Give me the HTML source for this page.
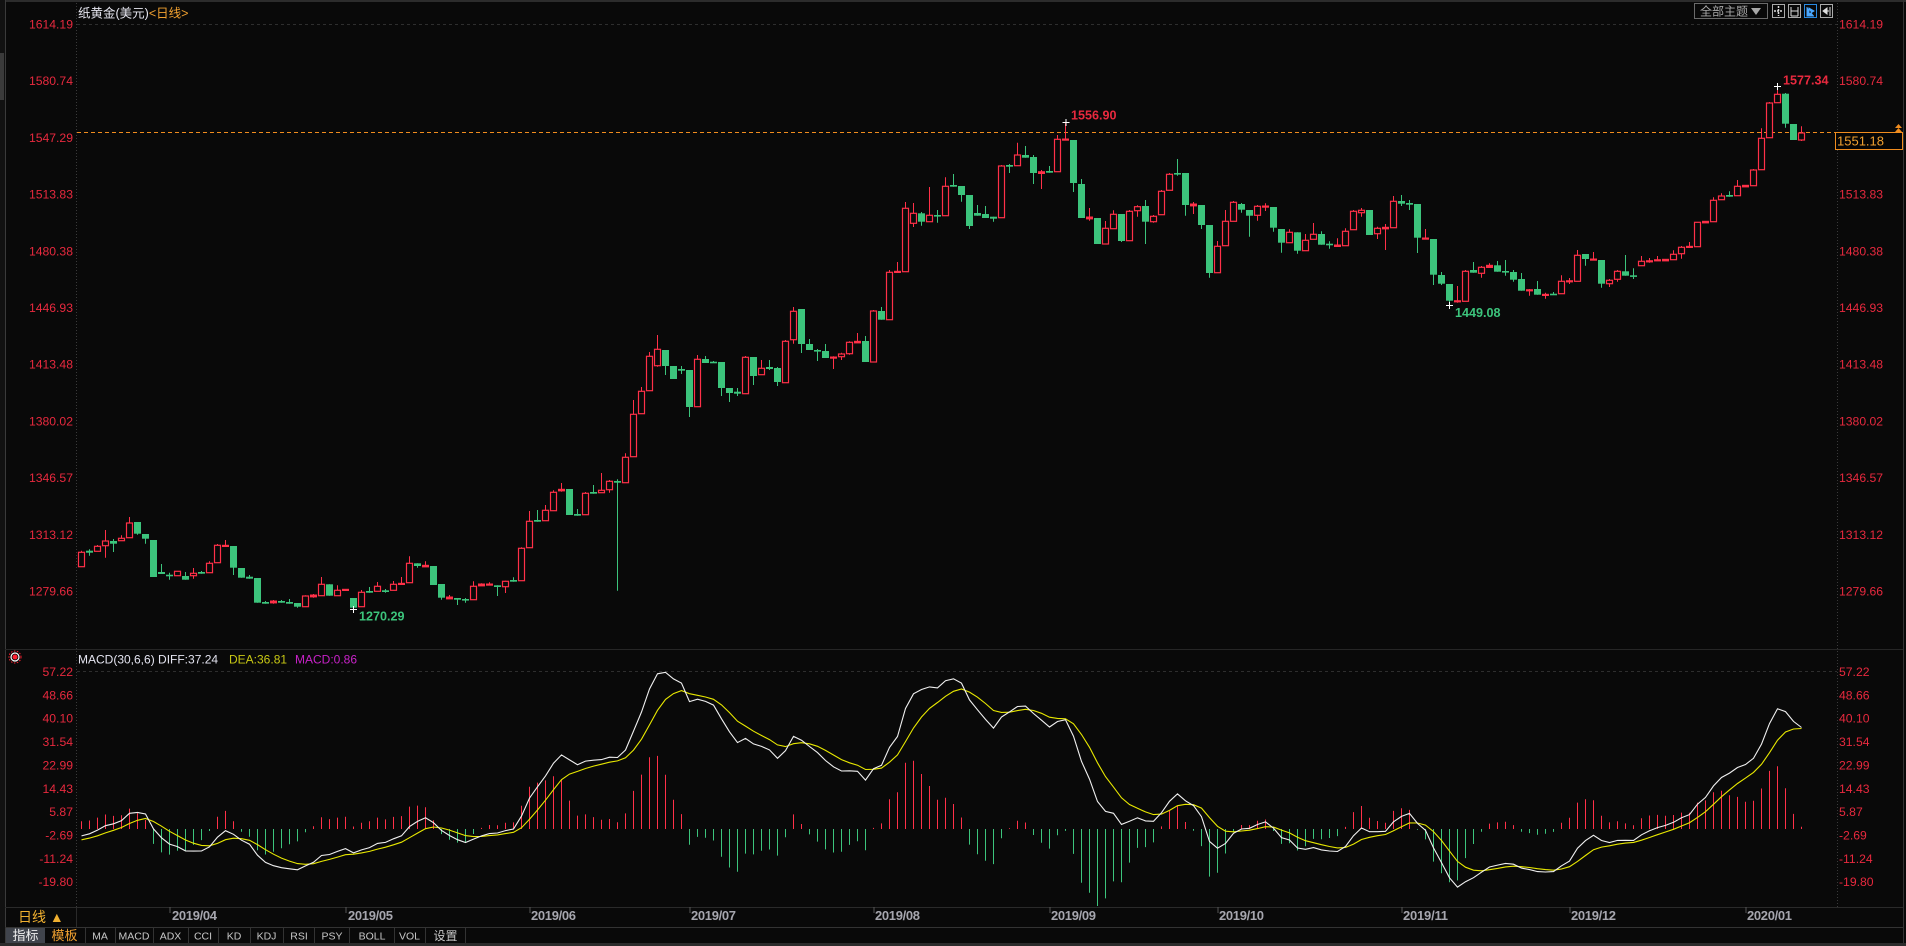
<!DOCTYPE html>
<html><head><meta charset="utf-8">
<style>
html,body{margin:0;padding:0;background:#090909;width:1906px;height:946px;overflow:hidden;}
svg{display:block;}
text{font-family:"Liberation Sans","Noto Sans CJK SC",sans-serif;}
.pl{font-size:12.2px;fill:#e8293e;}
.dt{font-size:13px;font-weight:bold;fill:#a6a6ae;}
.tb{font-family:"Liberation Mono",monospace;font-size:10.5px;fill:#c8c8c8;}
</style></head>
<body>
<svg id="c" width="1906" height="946" xmlns="http://www.w3.org/2000/svg">
<defs>
<clipPath id="mclip"><rect x="77" y="651" width="1759" height="255"/></clipPath>
<clipPath id="pclip"><rect x="77" y="3" width="1759" height="645"/></clipPath>
</defs>
<rect width="1906" height="946" fill="#090909"/>
<!-- frame -->
<rect x="0" y="0" width="1906" height="2" fill="#2c2c2c"/>
<rect x="0" y="0" width="5" height="946" fill="#111"/>
<line x1="5.5" y1="0" x2="5.5" y2="946" stroke="#3a3a3a"/>
<rect x="0" y="53" width="4" height="47" fill="#3a3a3a"/>
<line x1="1903.5" y1="0" x2="1903.5" y2="946" stroke="#333"/>
<line x1="76.5" y1="3" x2="76.5" y2="907" stroke="#3a3a3a" stroke-dasharray="1,2"/>
<line x1="1837.5" y1="3" x2="1837.5" y2="907" stroke="#3a3a3a" stroke-dasharray="1,2"/>
<line x1="77" y1="24.5" x2="1837" y2="24.5" stroke="#2e2e2e" stroke-dasharray="3,3"/>
<line x1="5" y1="649.5" x2="1903" y2="649.5" stroke="#262626"/>
<line x1="77" y1="671.5" x2="1837" y2="671.5" stroke="#2e2e2e" stroke-dasharray="3,3"/>
<line x1="5" y1="907.5" x2="1903" y2="907.5" stroke="#2a2a2a"/>
<line x1="76.5" y1="907" x2="76.5" y2="927" stroke="#2a2a2a"/>
<line x1="5" y1="927.5" x2="1903" y2="927.5" stroke="#333"/>
<rect x="0" y="943" width="1906" height="3" fill="#2b2b2b"/>

<!-- title -->
<text x="78" y="17.5" font-size="12.5" fill="#e6e6f0">纸黄金(美元)<tspan fill="#f0a030">&lt;日线&gt;</tspan></text>

<!-- toolbar -->
<rect x="1694.5" y="3.5" width="73" height="15" fill="none" stroke="#6a6a6a"/>
<text x="1700" y="15.5" font-size="12" fill="#a8a8a8">全部主题</text>
<path d="M1751 8 L1761 8 L1756 15 Z" fill="#a8a8a8"/>
<rect x="1772.5" y="4.5" width="12" height="13" fill="none" stroke="#aaa"/>
<path d="M1778.5 6 V16 M1774 11 H1783" stroke="#ddd" stroke-width="1.5" stroke-dasharray="2,1"/>
<rect x="1788.5" y="4.5" width="12" height="13" fill="none" stroke="#aaa"/>
<path d="M1791 7 V16 M1798 7 V16 M1791 11 H1798 M1791 16 H1798" stroke="#ddd"/>
<rect x="1804.5" y="4.5" width="12" height="13" fill="none" stroke="#2a8ae0"/>
<path d="M1807 7 V16 H1814 M1809 8 L1814 11 L1809 14 Z" stroke="#4aa8ff" fill="#4aa8ff"/>
<rect x="1820.5" y="4.5" width="12" height="13" fill="none" stroke="#aaa"/>
<path d="M1830 7 V16 M1823 11 L1827 8 V14 Z M1825 11 H1829" stroke="#ddd" fill="#ddd"/>

<!-- main price labels left -->
<g class="pl" text-anchor="end">
<text x="73" y="28.5">1614.19</text>
<text x="73" y="85.2">1580.74</text>
<text x="73" y="141.9">1547.29</text>
<text x="73" y="198.6">1513.83</text>
<text x="73" y="255.3">1480.38</text>
<text x="73" y="312">1446.93</text>
<text x="73" y="368.7">1413.48</text>
<text x="73" y="425.4">1380.02</text>
<text x="73" y="482.1">1346.57</text>
<text x="73" y="538.8">1313.12</text>
<text x="73" y="595.5">1279.66</text>
</g>
<g class="pl">
<text x="1839" y="28.5">1614.19</text>
<text x="1839" y="85.2">1580.74</text>
<text x="1839" y="141.9">1547.29</text>
<text x="1839" y="198.6">1513.83</text>
<text x="1839" y="255.3">1480.38</text>
<text x="1839" y="312">1446.93</text>
<text x="1839" y="368.7">1413.48</text>
<text x="1839" y="425.4">1380.02</text>
<text x="1839" y="482.1">1346.57</text>
<text x="1839" y="538.8">1313.12</text>
<text x="1839" y="595.5">1279.66</text>
</g>
<!-- macd labels -->
<g class="pl" text-anchor="end">
<text x="73" y="676">57.22</text>
<text x="73" y="699.4">48.66</text>
<text x="73" y="722.7">40.10</text>
<text x="73" y="746.1">31.54</text>
<text x="73" y="769.4">22.99</text>
<text x="73" y="792.8">14.43</text>
<text x="73" y="816.1">5.87</text>
<text x="73" y="839.5">-2.69</text>
<text x="73" y="862.8">-11.24</text>
<text x="73" y="886.2">-19.80</text>
</g>
<g class="pl">
<text x="1839" y="676">57.22</text>
<text x="1839" y="699.4">48.66</text>
<text x="1839" y="722.7">40.10</text>
<text x="1839" y="746.1">31.54</text>
<text x="1839" y="769.4">22.99</text>
<text x="1839" y="792.8">14.43</text>
<text x="1839" y="816.1">5.87</text>
<text x="1839" y="839.5">-2.69</text>
<text x="1839" y="862.8">-11.24</text>
<text x="1839" y="886.2">-19.80</text>
</g>

<!-- current price line -->
<line x1="77" y1="132.5" x2="1835" y2="132.5" stroke="#f08c1e" stroke-dasharray="4,3"/>

<g id="candles" clip-path="url(#pclip)"></g>
<g id="macd" clip-path="url(#mclip)"></g>

<!-- hi/lo marks -->
<g stroke="#fff" stroke-width="1">
<path d="M1062.5 122.5 H1069.5 M1066 119 V126"/>
<path d="M1774 86.5 H1781 M1777.5 83 V90"/>
<path d="M1446 305.5 H1453 M1449.5 302 V309"/>
<path d="M350 609.5 H357 M353.5 606 V613"/>
</g>
<g font-size="12.6" font-weight="bold">
<text x="1071" y="119.3" fill="#e8293e">1556.90</text>
<text x="1783" y="84.6" fill="#e8293e">1577.34</text>
<text x="1455" y="317" fill="#3cc47c">1449.08</text>
<text x="359" y="620.3" fill="#3cc47c">1270.29</text>
</g>

<!-- current price box -->
<rect x="1835.5" y="132.5" width="67" height="17" fill="#050505" stroke="#f08c1e"/>
<text x="1837" y="145.5" font-size="13" fill="#f0a030">1551.18</text>
<path d="M1895 128 L1898.5 124 L1902 128 Z M1895 132 L1898.5 128 L1902 132 Z" fill="#f08c1e"/>

<!-- macd header -->
<g transform="translate(15,657)">
<circle r="2.5" fill="#ff2030"/>
<circle r="4" fill="none" stroke="#fff" stroke-width="1.2"/>
<circle r="6" fill="none" stroke="#ff2030" stroke-width="1" stroke-dasharray="1.5,1.5"/>
</g>
<text x="78" y="663.7" font-size="12"><tspan fill="#e4e4f0">MACD(30,6,6) DIFF:37.24</tspan><tspan x="229" fill="#c8c814">DEA:36.81</tspan><tspan x="295" fill="#c822c8">MACD:0.86</tspan></text>

<!-- date axis -->
<g stroke="#555">
<line x1="170" y1="907" x2="170" y2="913"/>
<line x1="346" y1="907" x2="346" y2="913"/>
<line x1="530" y1="907" x2="530" y2="913"/>
<line x1="690" y1="907" x2="690" y2="913"/>
<line x1="874" y1="907" x2="874" y2="913"/>
<line x1="1050" y1="907" x2="1050" y2="913"/>
<line x1="1218" y1="907" x2="1218" y2="913"/>
<line x1="1402" y1="907" x2="1402" y2="913"/>
<line x1="1570" y1="907" x2="1570" y2="913"/>
<line x1="1746" y1="907" x2="1746" y2="913"/>
</g>
<g class="dt">
<text x="172" y="920" textLength="45">2019/04</text>
<text x="348" y="920" textLength="45">2019/05</text>
<text x="531" y="920" textLength="45">2019/06</text>
<text x="691" y="920" textLength="45">2019/07</text>
<text x="875" y="920" textLength="45">2019/08</text>
<text x="1051" y="920" textLength="45">2019/09</text>
<text x="1219" y="920" textLength="45">2019/10</text>
<text x="1403" y="920" textLength="45">2019/11</text>
<text x="1571" y="920" textLength="45">2019/12</text>
<text x="1747" y="920" textLength="45">2020/01</text>
</g>
<text x="18" y="922" font-size="14" fill="#f0b030">日线 ▲</text>

<!-- tab bar -->
<rect x="6" y="928" width="39" height="15" fill="#40444c"/>
<text x="25.5" y="940" font-size="13" fill="#f0f0f0" text-anchor="middle">指标</text>
<text x="64.5" y="940" font-size="13" fill="#f0a030" text-anchor="middle">模板</text>
<g stroke="#333">
<line x1="85.5" y1="928" x2="85.5" y2="943"/>
<line x1="115.5" y1="928" x2="115.5" y2="943"/>
<line x1="153.5" y1="928" x2="153.5" y2="943"/>
<line x1="188.5" y1="928" x2="188.5" y2="943"/>
<line x1="218.5" y1="928" x2="218.5" y2="943"/>
<line x1="250.5" y1="928" x2="250.5" y2="943"/>
<line x1="283.5" y1="928" x2="283.5" y2="943"/>
<line x1="314.5" y1="928" x2="314.5" y2="943"/>
<line x1="349.5" y1="928" x2="349.5" y2="943"/>
<line x1="394.5" y1="928" x2="394.5" y2="943"/>
<line x1="425.5" y1="928" x2="425.5" y2="943"/>
<line x1="465.5" y1="928" x2="465.5" y2="943"/>
</g>
<g class="tb" text-anchor="middle">
<text x="100" y="939.5">MA</text>
<text x="134" y="939.5">MACD</text>
<text x="170.5" y="939.5">ADX</text>
<text x="203" y="939.5">CCI</text>
<text x="234" y="939.5">KD</text>
<text x="266.5" y="939.5">KDJ</text>
<text x="299" y="939.5">RSI</text>
<text x="332" y="939.5">PSY</text>
<text x="372" y="939.5">BOLL</text>
<text x="409.5" y="939.5">VOL</text>
</g>
<text x="445.5" y="940" font-size="12" fill="#c8c8c8" text-anchor="middle">设置</text>
</svg>
<script>
(function(){
var D=[[1,552.3,566.7,550.7,566.7],[0,550.7,552.7,549.3,555.7],[1,546.3,551.3,545,551.3],[1,541,545.7,530,557.7],[0,541,543.7,539,552],[1,538.3,540.7,535.3,540.7],[1,523,537.7,517,537.7],[0,522,533.7,522,534.7],[0,534,538.7,534,543.7],[0,540,577,540,577],
[0,572,574,564,574],[0,574.7,575.3,572.7,579.7],[1,571.3,575.7,571.3,575.7],[0,576,579.7,572,579.7],[1,573.3,575.7,568,578.7],[0,572,573.7,571,573.7],[1,563.3,572.7,561.3,572.7],[1,545.3,562.7,544,562.7],[1,545.3,546,540,546],[0,546,567.7,546,575],
[0,568,577.7,568,577.7],[0,576.7,578.7,575,578.7],[0,578,602.7,578,602.7],[0,602,603.7,601,603.7],[1,601,602.7,600,603.7],[0,601,602.7,600,602.7],[0,602,603.7,599,603.7],[0,603,606.7,603,607.7],[1,596,606.7,595.3,606.7],[1,595,596.7,594,597.7],
[1,584.3,595.7,577,595.7],[0,584.3,595.7,584.3,595.7],[1,590.3,595.7,585.3,595.7],[1,589.3,590.3,589.3,590.3],[0,598,607.7,598,609],[1,592.3,606.7,590,606.7],[0,591,592.7,587,592.7],[1,586.3,591.3,582,591.3],[0,590.3,592,589,592.7],[1,584.3,590.3,581,590.3],
[1,583.3,583.7,577,583.7],[1,563.3,582.7,556.3,582.7],[0,563.3,566,563.3,567.7],[1,565.3,566.7,561.3,566.7],[0,566,585,566,585],[0,584,597.7,584,599.7],[1,597,598.7,595,598.7],[0,598,599.7,598,605],[0,599,600.3,598,602.7],[1,586.3,599.7,581.3,599.7],
[1,584,585.7,583.3,585.7],[1,584,585,582.3,585],[0,585.3,587,585.3,596],[1,581.3,586.7,580.7,593],[0,580,581.7,577.3,581.7],[1,548.3,580.7,547.3,580.7],[1,521.3,547.7,511,547.7],[0,520,521.7,510,521.7],[1,510.3,520.7,505,520.7],[1,492.3,510.7,490.3,510.7],
[1,489.3,490.7,483,491.7],[0,489,515,489,515],[0,514,515.7,509,515.7],[1,493.3,514.7,492,514.7],[0,492,493.7,485,493.7],[1,490.3,492.7,473,492.7],[1,481.3,489.7,480,492.7],[0,481,482.7,479.3,590.7],[1,457.3,482.7,453.3,482.7],[1,414.3,456.7,400,456.7],
[1,391.3,413.7,387,413.7],[1,356.3,390.7,352,390.7],[1,349.3,365.7,335,366.7],[0,350,366,350,375],[0,366,379,366,379],[0,369,370.7,366,374],[0,370,407,370,417],[1,359.3,406.7,355,406.7],[0,359,363,356,363],[0,361.7,362.7,361,362.7],
[0,362,388,362,396],[0,388,393,388,402],[0,391.7,393.7,388,396],[1,357.3,393.7,356,393.7],[0,357,376,357,385],[1,368.3,374.7,360,374.7],[0,367,369,360,370],[0,368,382,367,386],[1,341.3,382.7,340,382.7],[1,311.3,339.7,307,343.7],
[0,309,344,309,353],[0,344,350,339,350],[0,350,351,349,361],[0,351,358,344,358],[1,357,357.7,356.3,369],[1,354,356.7,352.7,360],[1,342.3,353.7,341.3,354.7],[1,341.3,342.7,333,342.7],[0,341,362,336,362],[1,311,362,310,362],
[0,311,319.7,307,319.7],[1,272.3,319.7,270,319.7],[1,271.3,272.3,262,272.3],[1,208.3,271.7,202,271.7],[1,213.3,223.3,203,227],[0,213.3,221.7,212,225.7],[1,215.3,221.7,187,221.7],[0,215,215.7,210,222.7],[1,186.3,215.7,177.3,215.7],[0,185,186.7,174,186.7],
[0,186,195,186,201.7],[0,195,226,195,229],[0,213,215.7,205,215.7],[0,214,218,206,218],[0,216.7,218.7,216.7,221.7],[1,166,217.7,165,217.7],[0,165,166.7,164,173],[1,155,165.7,142.7,165.7],[0,155,157.7,146,157.7],[0,157,173,155,184],
[1,171.7,173.3,170,189],[0,171,172.7,166,172.7],[1,139.3,171.7,135,171.7],[1,139,139.7,123.3,139.7],[0,140,183,140,192],[0,184,218,179,218],[1,217,218.7,208,220.7],[0,218,244,218,244],[1,228.3,244,221,244],[1,214.3,228.7,210.3,228.7],
[0,214,241,214,242],[1,211.3,240.7,210,240.7],[1,206.7,210.7,205.3,216.7],[0,206,221.7,200,244],[1,216.3,221.7,215,222.7],[1,191.3,214.7,190,214.7],[1,174.3,190.3,173,190.3],[0,173,173.7,159,175.7],[0,173,205,173,215.7],[1,204,205.7,202,214],
[0,205,225,205,229],[0,225,273,225,277.7],[1,246.3,272.7,241,272.7],[1,221.3,245.7,210,245.7],[1,202.3,221.3,201,221.3],[0,204,209.7,203,212.7],[0,210,215.7,210,236.7],[1,206.3,215.3,205,220.7],[1,206,206.7,203.3,211],[0,207,227.7,207,231.7],
[0,229,242.7,229,252.7],[1,232.3,242.7,229.3,242.7],[0,232.3,250.7,232.3,253.7],[1,240.3,250.7,234,250.7],[1,234.3,239.3,223,239.3],[0,234,244.7,231.3,244.7],[0,243.7,244.7,241.3,248.7],[1,245,246.3,238.3,246.3],[1,231.3,245.7,228.3,245.7],[1,211.3,229.7,210,229.7],
[1,210.3,212.7,208,216.7],[0,210,235,210,235],[1,228.3,233.7,226.7,239],[1,227.3,228.7,224,250],[1,201.3,227.7,196,227.7],[0,201,203.7,195,206],[0,203,204.7,200,210],[0,204,237.7,204,253],[1,238,238.7,229,238.7],[0,239,274.7,239,285],
[0,275,283.7,272,285],[0,284,300.7,284,303.3],[1,300.7,301.7,286,302.7],[1,271.3,301.3,270,301.3],[0,270,272.7,262,272.7],[1,267.3,273.3,266,277.7],[1,265.3,267.3,263.3,267.3],[0,265.3,271.7,261,271.7],[0,271,272.3,260,275.7],[0,272,279.7,270,281.7],
[0,279,290.7,273,290.7],[1,289.7,290.7,289,295.7],[0,289,294.7,281,294.7],[1,294.3,295.3,292.7,298.7],[0,293.7,294.7,292,294.7],[1,281.3,293.7,275.3,293.7],[1,280.7,281.7,278,284],[1,255.3,281.3,250,281.3],[0,254,259,254,265.7],[1,259,259.7,252,259.7],
[0,260,283.7,260,287.7],[1,280.3,283.7,279,287],[1,271.3,279.3,270,281.7],[0,271.3,275.7,255,275.7],[0,275.3,276.7,268.3,279],[1,261.3,265.7,256,265.7],[1,260.7,261.7,258,262.7],[1,259.7,260.7,256,260.7],[1,259.3,260.7,259.3,260.7],[1,254.3,259.7,250.3,259.7],
[1,247.3,253.7,246,258.7],[1,246.3,247.3,242,247.3],[1,222.3,246.7,222.3,246.7],[1,221.3,222.7,221.3,222.7],[1,200.3,221.7,197.3,221.7],[1,196,199.7,193.3,199.7],[0,195,196.7,191.3,196.7],[1,186.3,195.7,180,195.7],[1,185.3,186.7,185.3,186.7],[1,170,185.7,169,185.7],
[1,138.3,169.7,128.3,169.7],[1,103,137.7,102,137.7],[1,94.3,102.7,86.7,102.7],[0,93.7,123.7,93,127.7],[0,124,140,124,140],[1,133,140,126.3,141]];
var R='#ff3048',G='#3cc47c',s='';
for(var i=0;i<D.length;i++){
 var d=D[i],x=81.5+8*i,t=d[0],bt=d[1],bb=d[2],wt=d[3],wb=d[4],h=bb-bt,c=t?R:G;
 if(t){
  if(wt<bt-0.3) s+='<line x1="'+x+'" y1="'+wt+'" x2="'+x+'" y2="'+bt+'" stroke="'+c+'"/>';
  if(wb>bb+0.3) s+='<line x1="'+x+'" y1="'+bb+'" x2="'+x+'" y2="'+wb+'" stroke="'+c+'"/>';
  if(h<2.2) s+='<rect x="'+(x-3.5)+'" y="'+(bt-0.5)+'" width="7" height="'+(Math.max(h,1)+1.2)+'" fill="'+c+'"/>';
  else s+='<rect x="'+(x-3)+'" y="'+bt+'" width="6" height="'+h+'" fill="#090909" stroke="'+c+'" stroke-width="1.2"/>';
 } else {
  s+='<line x1="'+x+'" y1="'+wt+'" x2="'+x+'" y2="'+wb+'" stroke="'+c+'"/>';
  s+='<rect x="'+(x-3.5)+'" y="'+bt+'" width="7" height="'+Math.max(h,1.6)+'" fill="'+c+'"/>';
 }
}
document.getElementById('candles').innerHTML=s;
// MACD
var warm=[];for(var k=0;k<60;k++)warm.push(1306);
warm=warm.concat([1300,1296,1292,1290,1294,1298,1300,1301]);
var closes=D.map(function(d){return 1614.19-((d[0]?d[1]:d[2])-24)/1.6951;});
var all=warm.concat(closes),e6=all[0],e30=all[0],dea=0,dif=[],de=[];
for(var j=0;j<all.length;j++){var c2=all[j];e6+=(c2-e6)*2/7;e30+=(c2-e30)*2/31;var df=e6-e30;dea+=(df-dea)*2/7;dif.push(df);de.push(dea);}
var off=warm.length,Z=829,S=2.7284,m='',pd='',pe='';
for(var i2=0;i2<D.length;i2++){
 var x2=81.5+8*i2,a=dif[off+i2],b=de[off+i2],mv=2*(a-b),yv=Z-mv*S;
 m+='<line x1="'+x2+'" y1="'+Z+'" x2="'+x2+'" y2="'+yv.toFixed(1)+'" stroke="'+(mv>=0?R:G)+'"/>';
 pd+=(i2?' ':'')+x2+','+(Z-a*S).toFixed(1);
 pe+=(i2?' ':'')+x2+','+(Z-b*S).toFixed(1);
}
m+='<polyline points="'+pe+'" fill="none" stroke="#e8e800" stroke-width="1.1"/>';
m+='<polyline points="'+pd+'" fill="none" stroke="#f0f0f0" stroke-width="1.1"/>';
document.getElementById('macd').innerHTML=m;
})();
</script>
</body></html>
